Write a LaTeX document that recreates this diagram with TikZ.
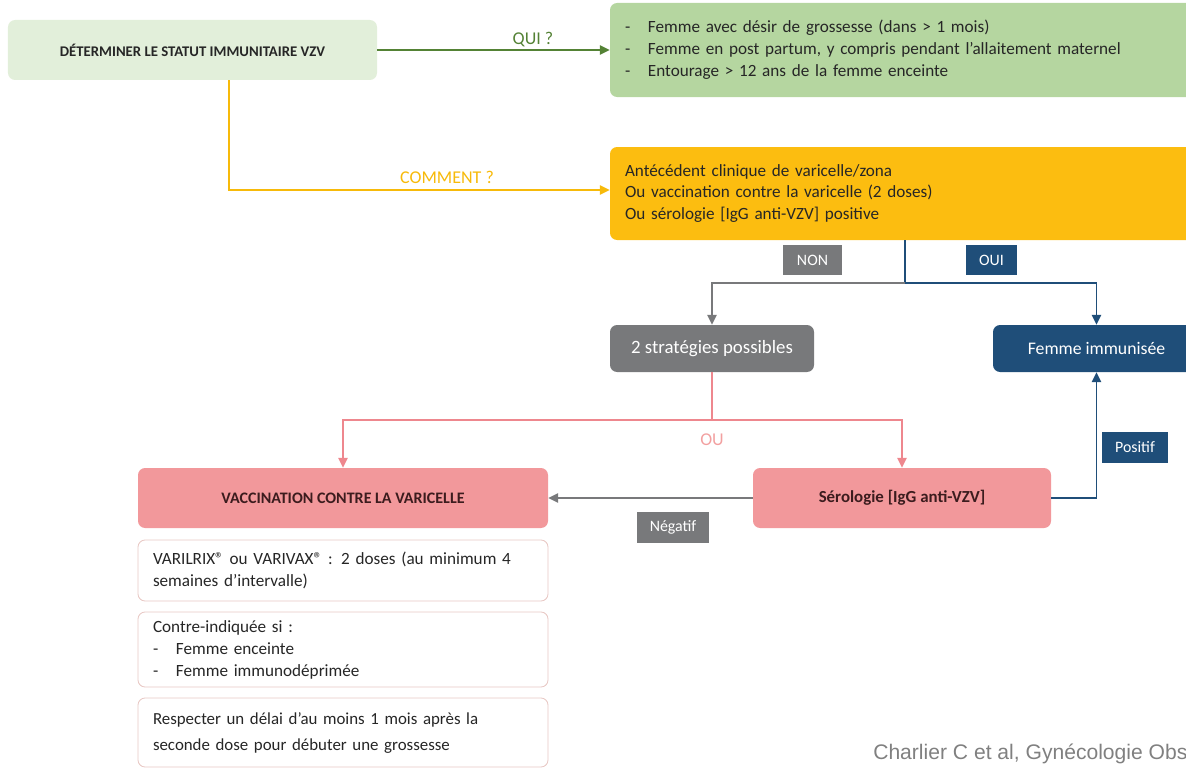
\documentclass[tikz,border=0pt]{standalone}
\usepackage{fontspec}
\setmainfont{Carlito}
\newfontfamily\creditfont{Liberation Sans}
\usepackage{xcolor}
\usetikzlibrary{arrows.meta, positioning, calc}

\definecolor{palegreen}{RGB}{226,239,218}
\definecolor{midgreen}{RGB}{181,214,160}
\definecolor{darkgreen}{RGB}{84,130,53}
\definecolor{amber}{RGB}{252,189,16}
\definecolor{amberline}{RGB}{247,186,10}
\definecolor{slate}{RGB}{120,121,123}
\definecolor{navy}{RGB}{31,78,121}
\definecolor{rose}{RGB}{242,152,155}
\definecolor{roseline}{RGB}{238,135,142}
\definecolor{roselabel}{RGB}{242,160,160}
\definecolor{roseedge}{RGB}{232,200,196}
\definecolor{inkdark}{RGB}{38,38,38}
\definecolor{inkrose}{RGB}{60,28,30}

\begin{document}
\begin{tikzpicture}[
  txt/.style={font=\fontsize{12.2}{15.6}\selectfont},
  basebox/.style={rectangle, rounded corners=5pt, inner sep=0pt, txt},
  startbox/.style={basebox, fill=palegreen, text=inkdark,
                   minimum width=9.225cm, minimum height=1.5cm,
                   font=\fontsize{10.5}{13}\selectfont\bfseries},
  listbox/.style={basebox, minimum width=14.75cm,
                  text width=14.0cm, align=left, text=inkdark},
  graybox/.style={basebox, fill=slate, text=white,
                  minimum width=5.1cm, minimum height=1.175cm,
                  font=\fontsize{13.4}{16}\selectfont},
  bluebox/.style={basebox, fill=navy, text=white,
                  minimum width=5.175cm, minimum height=1.175cm,
                  font=\fontsize{12.6}{15}\selectfont},
  pinkbox/.style={basebox, fill=rose, text=inkrose,
                  minimum height=1.5cm, font=\fontsize{12}{15}\selectfont\bfseries},
  notebox/.style={basebox, draw=roseedge, line width=0.6pt, fill=white,
                  minimum width=10.25cm, text width=9.5cm, align=left,
                  text=inkdark},
  tag/.style={rectangle, inner sep=0pt, text=white, minimum height=0.76cm,
              font=\fontsize{11.3}{13}\selectfont},
  lbl/.style={font=\fontsize{12.8}{15}\selectfont},
  arr/.style={-{Triangle[length=7pt, width=6.5pt]}, line width=1.3pt},
  gline/.style={arr, darkgreen},
  yline/.style={arr, amberline},
  bline/.style={line width=1.3pt, navy},
  pline/.style={line width=1.3pt, roseline},
]
\useasboundingbox (0,0) rectangle (29.65,-19.225);

%% Top row
\node[startbox] (start) at (4.8125,-1.25) {DÉTERMINER LE STATUT IMMUNITAIRE VZV};
\node[listbox, fill=midgreen, minimum height=2.35cm] (who) at (22.625,-1.25)
  {\makebox[0.575cm][l]{-}Femme avec désir de grossesse (dans > 1 mois)\\
   \makebox[0.575cm][l]{-}Femme en post partum, y compris pendant l’allaitement maternel\\
   \makebox[0.575cm][l]{-}Entourage > 12 ans de la femme enceinte};

%% Criteria
\node[listbox, fill=amber, minimum height=2.325cm] (how) at (22.625,-4.8375)
  {Antécédent clinique de varicelle/zona\\
   Ou vaccination contre la varicelle (2 doses)\\
   Ou sérologie [IgG anti-VZV] positive};

%% Outcomes
\node[graybox] (strat) at (17.8,-8.7125) {2 stratégies possibles};
\node[bluebox] (immune) at (27.4125,-8.7125) {Femme immunisée};

%% Strategies
\node[pinkbox, minimum width=10.25cm, font=\fontsize{11.4}{14}\selectfont\bfseries]
  (vacc) at (8.575,-12.45) {VACCINATION CONTRE LA VARICELLE};
\node[pinkbox, minimum width=7.45cm] (sero) at (22.55,-12.45) {Sérologie [IgG anti-VZV]};

%% Notes under vaccination
\node[notebox, minimum height=1.525cm] (note1) at (8.575,-14.2625)
  {VARILRIX® ou VARIVAX® : 2 doses (au minimum 4\\ semaines d’intervalle)};
\node[notebox, minimum height=1.875cm] (note2) at (8.575,-16.2375)
  {Contre-indiquée si :\\
   \makebox[0.575cm][l]{-}Femme enceinte\\
   \makebox[0.575cm][l]{-}Femme immunodéprimée};
\node[notebox, minimum height=1.725cm, font=\fontsize{12}{18.5}\selectfont] (note3) at (8.575,-18.3125)
  {Respecter un délai d’au moins 1 mois après la\\ seconde dose pour débuter une grossesse};

%% Branch points
\coordinate (bend) at (5.725,-4.75);
\coordinate (fork) at (22.625,-7.075);
\coordinate (split) at (17.8,-10.5);

%% Edges
\draw[gline] (start.east) -- (who.west);
\draw[yline] (start.south -| bend) -- (bend) -- (bend -| how.west);
\draw[bline] (how.south) -- (fork);
\draw[arr, slate] (fork) -| (strat.north);
\draw[arr, navy] (fork) -| (immune.north);
\draw[pline] (strat.south) -- (split);
\draw[arr, roseline] (split) -| (vacc.north);
\draw[arr, roseline] (split) -| (sero.north);
\draw[arr, slate] (sero.west) -- (vacc.east);
\draw[arr, navy] (sero.east) -| (immune.south);

%% Edge labels
\node[lbl, darkgreen] (qui) at (13.325,-1.0) {QUI ?};
\node[lbl, amberline] (comment) at (11.175,-4.425) {COMMENT ?};
\node[tag, fill=slate, minimum width=1.475cm] (non) at (20.3125,-6.5) {NON};
\node[tag, fill=navy, minimum width=1.275cm] (oui) at (24.7875,-6.5) {OUI};
\node[lbl, roselabel] (ou) at (17.8,-11.0) {OU};
\node[tag, fill=slate, minimum width=1.8cm] (neg) at (16.825,-13.1875) {Négatif};
\node[tag, fill=navy, minimum width=1.65cm] (pos) at (28.375,-11.1875) {Positif};

%% Source
\node[anchor=west, inner sep=0pt, text=gray, font=\creditfont\fontsize{15}{17}\selectfont]
  (credit) at (21.825,-18.85) {Charlier C et al, Gynécologie Obs};

\end{tikzpicture}
\end{document}
